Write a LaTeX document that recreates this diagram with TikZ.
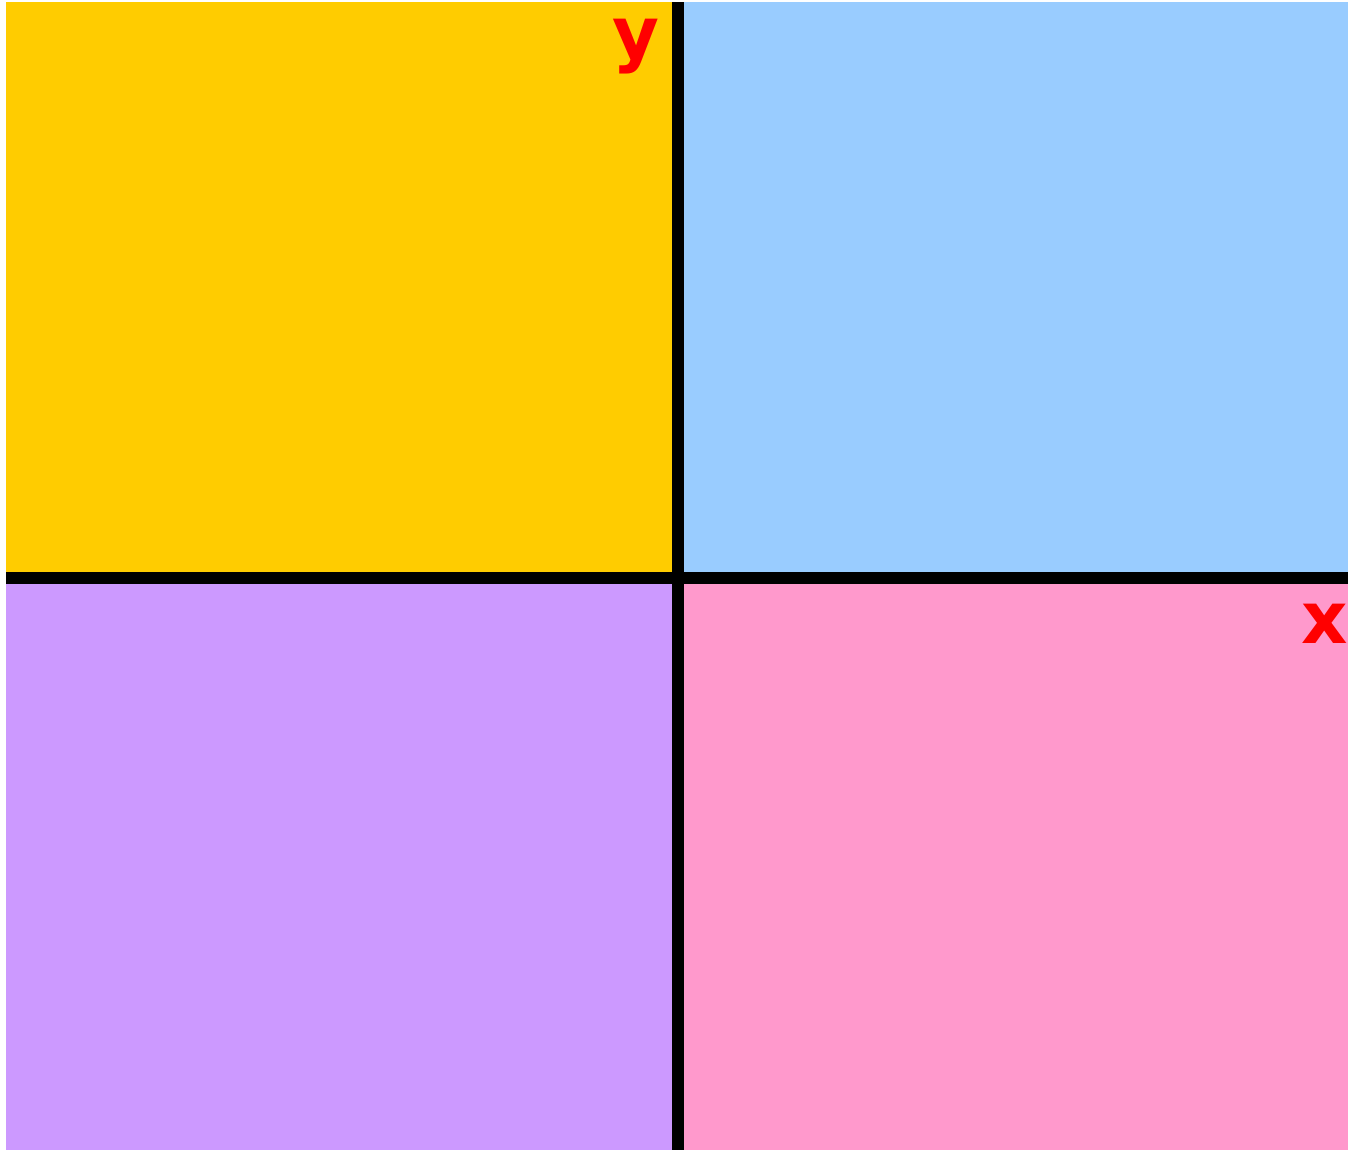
\documentclass[tikz,border=0pt]{standalone}
\usepackage{fontspec}
\setmainfont{DejaVu Sans}
\definecolor{cyel}{HTML}{FFCC00}
\definecolor{cblu}{HTML}{99CCFF}
\definecolor{cpur}{HTML}{CC99FF}
\definecolor{cpnk}{HTML}{FF99CC}
\definecolor{cred}{HTML}{FF0000}
\begin{document}
\begin{tikzpicture}[x=0.5pt,y=-0.5pt,
  sep/.style={fill=black,draw=none},
  axlabel/.style={text=cred,font=\fontsize{36}{40}\selectfont\bfseries,inner sep=0pt,anchor=base}]
\useasboundingbox (0,0) rectangle (1348,1151);
\fill[white] (0,0) rectangle (1348,1151);
\begin{scope}
\clip (0,0) rectangle (1348,1151);
\fill[cyel] (6,2) rectangle (672,572);
\fill[cblu] (684,2) rectangle (1348,572);
\fill[cpur] (6,584) rectangle (672,1150);
\fill[cpnk] (684,584) rectangle (1348,1150);
\fill[sep] (672,2) rectangle (684,1150);
\fill[sep] (6,572) rectangle (1348,584);
\node[axlabel] (ylab) at (636,58) {y};
\node[axlabel] (xlab) at (1325,643) {x};
\end{scope}
\end{tikzpicture}
\end{document}
